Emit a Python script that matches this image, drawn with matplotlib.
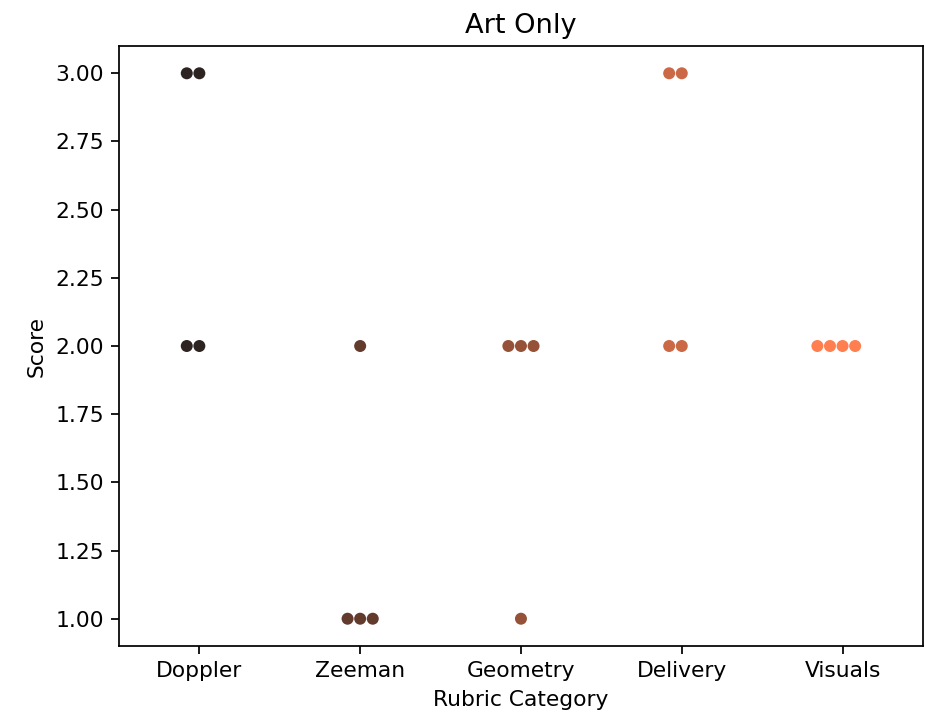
import pandas as pd
import matplotlib
matplotlib.use("Agg")
import matplotlib.pyplot as plt
import seaborn as sns

# Rubric scores per category (Art Only group)
categories = ['Doppler', 'Zeeman', 'Geometry', 'Delivery', 'Visuals']
doppler = [3, 3, 2, 2]
zeeman = [2, 1, 1, 1]
geometry = [2, 2, 2, 1]
delivery = [3, 3, 2, 2]
visuals = [2, 2, 2, 2]

scores = [doppler, zeeman, geometry, delivery, visuals]
df = pd.DataFrame({
    'Rubric Category': [c for c, s in zip(categories, scores) for _ in s],
    'Score': [v for s in scores for v in s],
})

dpi = 157
fig = plt.figure(figsize=(925 / dpi, 718 / dpi), dpi=dpi)
ax = fig.add_axes([0.1286, 0.1003, 0.8692, 0.8356])

sns.swarmplot(data=df, x='Rubric Category', y='Score', hue='Rubric Category',
              order=categories, palette='dark:coral', size=5.5, legend=False, ax=ax)

ax.set_title("Art Only", fontsize=12.5)
ax.set_xlabel("Rubric Category")
ax.set_ylabel("Score")

fig.savefig("out.png", dpi=dpi)
